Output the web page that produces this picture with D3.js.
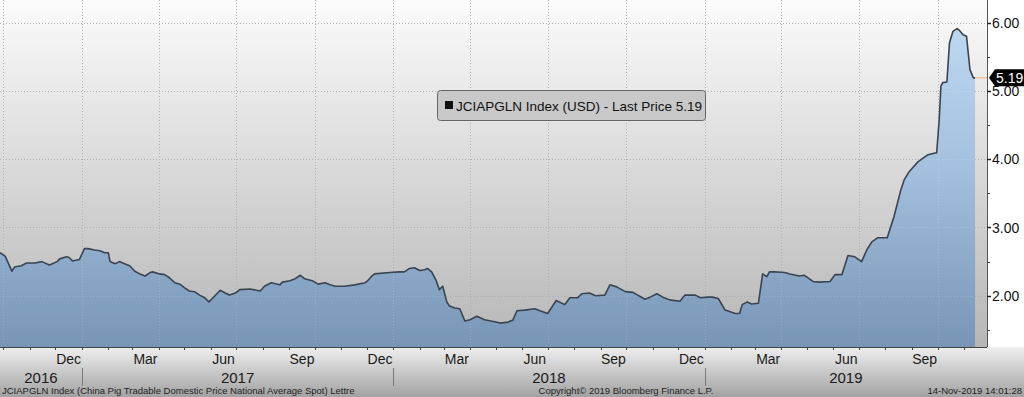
<!DOCTYPE html>
<html>
<head>
<meta charset="utf-8">
<script src="https://cdn.jsdelivr.net/npm/d3@7"></script>
<style>
  html, body { margin: 0; padding: 0; background: #fff; }
  svg { display: block; font-family: "Liberation Sans", Arial, sans-serif; }
</style>
</head>
<body>
<svg id="chart" width="1024" height="397"></svg>
<script>
// ---- data ----
const dates = [
  "2016-09-27","2016-10-03","2016-10-11","2016-10-14","2016-10-22","2016-10-28","2016-11-07","2016-11-15","2016-11-24",
  "2016-12-03","2016-12-06","2016-12-14","2016-12-17","2016-12-21","2016-12-29",
  "2017-01-04","2017-01-08","2017-01-16","2017-01-22","2017-01-28","2017-02-01","2017-02-03","2017-02-09","2017-02-14",
  "2017-02-20","2017-02-26","2017-03-04","2017-03-10","2017-03-16","2017-03-22","2017-03-25","2017-04-02","2017-04-08",
  "2017-04-14","2017-04-20","2017-04-26","2017-05-01","2017-05-07","2017-05-13","2017-05-19","2017-05-25","2017-05-30",
  "2017-06-06","2017-06-12","2017-06-18","2017-06-23","2017-06-30","2017-07-05","2017-07-17","2017-07-29","2017-08-03",
  "2017-08-11","2017-08-21","2017-08-24","2017-09-02","2017-09-08","2017-09-14","2017-09-19","2017-09-28","2017-10-05",
  "2017-10-13","2017-10-19","2017-10-25","2017-11-05","2017-11-17","2017-11-29","2017-12-02","2017-12-07","2017-12-10",
  "2017-12-28",
  "2018-01-08","2018-01-14","2018-01-20","2018-01-26","2018-02-01","2018-02-07","2018-02-10","2018-02-15","2018-02-20",
  "2018-02-24","2018-02-28","2018-03-05","2018-03-08","2018-03-14","2018-03-20","2018-03-26","2018-04-01","2018-04-09",
  "2018-04-18","2018-04-30","2018-05-06","2018-05-14","2018-05-21","2018-05-26","2018-06-04","2018-06-16","2018-06-22",
  "2018-07-01","2018-07-11","2018-07-21","2018-07-27","2018-08-05","2018-08-10","2018-08-19","2018-08-26","2018-09-06",
  "2018-09-12","2018-09-20","2018-09-30","2018-10-09","2018-10-23","2018-10-29","2018-11-06","2018-11-13","2018-11-21",
  "2018-12-03","2018-12-09","2018-12-21","2018-12-27",
  "2019-01-05","2019-01-10","2019-01-17","2019-01-25","2019-02-06","2019-02-11","2019-02-14","2019-02-20","2019-02-25",
  "2019-03-05","2019-03-10","2019-03-15","2019-03-18","2019-03-24","2019-04-05","2019-04-11","2019-04-22","2019-04-28",
  "2019-05-08","2019-05-16","2019-05-28","2019-06-03","2019-06-11","2019-06-18","2019-06-26","2019-07-04","2019-07-10",
  "2019-07-16","2019-07-23","2019-08-03","2019-08-11","2019-08-19","2019-08-23","2019-08-29","2019-09-08","2019-09-19",
  "2019-09-28","2019-09-30","2019-10-03","2019-10-05","2019-10-07","2019-10-12","2019-10-15","2019-10-19","2019-10-24",
  "2019-10-27","2019-10-31","2019-11-04","2019-11-08","2019-11-12","2019-11-14"
];
const prices = [
  2.63,2.58,2.36,2.42,2.44,2.48,2.48,2.50,2.45,
  2.50,2.54,2.57,2.56,2.51,2.53,
  2.69,2.69,2.67,2.66,2.63,2.63,2.50,2.47,2.50,
  2.47,2.44,2.36,2.32,2.29,2.34,2.35,2.32,2.31,
  2.26,2.19,2.17,2.12,2.07,2.06,2.01,1.97,1.91,
  2.00,2.08,2.04,2.01,2.04,2.09,2.10,2.07,2.14,
  2.19,2.16,2.20,2.22,2.25,2.30,2.25,2.22,2.17,
  2.19,2.16,2.14,2.14,2.16,2.19,2.22,2.29,2.32,
  2.34,
  2.35,2.35,2.40,2.41,2.37,2.38,2.40,2.35,2.23,
  2.09,2.14,1.90,1.85,1.82,1.81,1.63,1.65,1.70,
  1.65,1.62,1.60,1.61,1.64,1.78,1.79,1.81,1.78,
  1.74,1.93,1.87,1.97,1.97,2.03,2.04,2.00,2.01,
  2.16,2.13,2.06,2.05,1.95,1.98,2.03,1.98,1.94,
  1.92,2.01,2.01,1.97,
  1.98,1.98,1.96,1.79,1.74,1.74,1.87,1.91,1.88,
  1.89,2.32,2.28,2.35,2.35,2.34,2.32,2.29,2.30,
  2.21,2.20,2.21,2.31,2.31,2.59,2.57,2.50,2.67,
  2.79,2.85,2.85,3.16,3.55,3.70,3.82,3.96,4.06,
  4.09,4.09,4.58,5.07,5.12,5.13,5.70,5.87,5.91,
  5.88,5.82,5.80,5.31,5.19,5.19
];
const labelMonths = ["2016-12","2017-03","2017-06","2017-09","2017-12","2018-03","2018-06","2018-09","2018-12","2019-03","2019-06","2019-09"];
const monthNames = ["Dec","Mar","Jun","Sep","Dec","Mar","Jun","Sep","Dec","Mar","Jun","Sep"];
const years = ["2016","2017","2018","2019"];
const yTicks = [2, 3, 4, 5, 6];
const yMinorTicks = [1.5, 2.5, 3.5, 4.5, 5.5];
const lastPrice = 5.19;
const legendText = "JCIAPGLN Index (USD) - Last Price 5.19";
const footLeft = "JCIAPGLN Index (China Pig Tradable Domestic Price National Average Spot) Lettre";
const footMid = "Copyright\u00A9 2019 Bloomberg Finance L.P.";
const footRight = "14-Nov-2019 14:01:28";

// ---- layout ----
const W = 1024, H = 397;
const PLOT = { left: 0, right: 987, top: 0, bottom: 347 };
const parse = d3.timeParse("%Y-%m-%d");
const parseMonth = d3.timeParse("%Y-%m");

const data = dates.map((d, i) => ({ date: parse(d), value: prices[i] }));

const x = d3.scaleTime()
  .domain([new Date(2016, 8, 27), new Date(2019, 10, 28)])
  .range([PLOT.left, PLOT.right]);
const y = d3.scaleLinear()
  .domain([1.25, 6.33])
  .range([PLOT.bottom, PLOT.top]);

const svg = d3.select("#chart");
const defs = svg.append("defs");

// background gradient of the plot
const bgGrad = defs.append("linearGradient")
  .attr("id", "bgGrad").attr("x1", 0).attr("y1", 0).attr("x2", 0).attr("y2", 1);
bgGrad.append("stop").attr("offset", "0%").attr("stop-color", "#fbfbfb");
bgGrad.append("stop").attr("offset", "100%").attr("stop-color", "#b6b6b6");

// area fill gradient, fixed to the plot height
const areaGrad = defs.append("linearGradient")
  .attr("id", "areaGrad").attr("gradientUnits", "userSpaceOnUse")
  .attr("x1", 0).attr("y1", PLOT.top).attr("x2", 0).attr("y2", PLOT.bottom);
areaGrad.append("stop").attr("offset", "0%").attr("stop-color", "#c3dcf5");
areaGrad.append("stop").attr("offset", "50%").attr("stop-color", "#a2bfdd");
areaGrad.append("stop").attr("offset", "100%").attr("stop-color", "#7795b5");

// bottom axis band gradient
const axGrad = defs.append("linearGradient")
  .attr("id", "axGrad").attr("x1", 0).attr("y1", 0).attr("x2", 0).attr("y2", 1);
axGrad.append("stop").attr("offset", "0%").attr("stop-color", "#efefef");
axGrad.append("stop").attr("offset", "100%").attr("stop-color", "#a2a2a2");

svg.append("rect").attr("width", W).attr("height", H).attr("fill", "#fff");
svg.append("rect")
  .attr("x", PLOT.left).attr("y", PLOT.top)
  .attr("width", PLOT.right - PLOT.left).attr("height", PLOT.bottom - PLOT.top)
  .attr("fill", "url(#bgGrad)");
svg.append("rect")
  .attr("x", 0).attr("y", PLOT.bottom)
  .attr("width", W).attr("height", H - PLOT.bottom)
  .attr("fill", "url(#axGrad)");

// grid
const quarterStarts = x.ticks(d3.timeMonth.every(3));
function drawGrid(cls, color, opacity) {
  const g = svg.append("g").attr("class", cls)
    .attr("stroke", color).attr("stroke-opacity", opacity)
    .attr("stroke-dasharray", "1,2").attr("fill", "none");
  g.selectAll("line.h").data(yTicks).join("line").attr("class", "h")
    .attr("x1", PLOT.left).attr("x2", PLOT.right)
    .attr("y1", d => Math.round(y(d)) + 0.5).attr("y2", d => Math.round(y(d)) + 0.5);
  g.selectAll("line.v").data(quarterStarts).join("line").attr("class", "v")
    .attr("x1", d => Math.round(x(d)) + 0.5).attr("x2", d => Math.round(x(d)) + 0.5)
    .attr("y1", PLOT.top).attr("y2", PLOT.bottom);
}
drawGrid("grid", "#9a9a9a", 0.9);

// area and line
const area = d3.area()
  .x(d => x(d.date)).y0(PLOT.bottom).y1(d => y(d.value));
const line = d3.line()
  .x(d => x(d.date)).y(d => y(d.value));

svg.append("path").datum(data)
  .attr("d", area)
  .attr("fill", "url(#areaGrad)");

drawGrid("grid-over", "#ffffff", 0.18);

svg.append("path").datum(data)
  .attr("d", line)
  .attr("fill", "none")
  .attr("stroke", "#3a4452")
  .attr("stroke-width", 1.6)
  .attr("stroke-linejoin", "round");

// last price connector
const last = data[data.length - 1];
const yp = y(lastPrice);
svg.append("line")
  .attr("x1", x(last.date)).attr("x2", PLOT.right)
  .attr("y1", yp).attr("y2", yp)
  .attr("stroke", "#f2b062").attr("stroke-width", 1);

// right panel + axis
svg.append("rect")
  .attr("x", PLOT.right).attr("y", 0)
  .attr("width", W - PLOT.right).attr("height", PLOT.bottom)
  .attr("fill", "#fff");

const yAxisG = svg.append("g").attr("transform", `translate(${PLOT.right},0)`);
yAxisG.append("line")
  .attr("x1", 0.5).attr("x2", 0.5).attr("y1", PLOT.top).attr("y2", PLOT.bottom)
  .attr("stroke", "#555");
yAxisG.selectAll("line.maj").data(yTicks).join("line").attr("class", "maj")
  .attr("x1", 0).attr("x2", 4)
  .attr("y1", d => Math.round(y(d)) + 0.5).attr("y2", d => Math.round(y(d)) + 0.5)
  .attr("stroke", "#222").attr("stroke-width", 1.5);
yAxisG.selectAll("line.min").data(yMinorTicks).join("line").attr("class", "min")
  .attr("x1", 0).attr("x2", 3)
  .attr("y1", d => Math.round(y(d)) + 0.5).attr("y2", d => Math.round(y(d)) + 0.5)
  .attr("stroke", "#444");
yAxisG.selectAll("text").data(yTicks).join("text")
  .attr("x", 5).attr("y", d => y(d))
  .attr("dy", "0.36em")
  .attr("font-size", 14).attr("fill", "#111")
  .text(d => d3.format(".2f")(d));

// last price tag
const tag = svg.append("g").attr("transform", `translate(${PLOT.right + 2},${yp})`);
tag.append("path")
  .attr("d", "M0,0 L6,-8.5 L35,-8.5 L35,8.5 L6,8.5 Z")
  .attr("fill", "#000");
tag.append("text")
  .attr("x", 7).attr("dy", "0.36em")
  .attr("font-size", 14).attr("fill", "#fff")
  .text(d3.format(".2f")(lastPrice));

// bottom axis
svg.append("line")
  .attr("x1", 0).attr("x2", PLOT.right)
  .attr("y1", PLOT.bottom + 0.5).attr("y2", PLOT.bottom + 0.5)
  .attr("stroke", "#444");
svg.append("g").selectAll("line")
  .data(x.ticks(d3.timeMonth.every(1)))
  .join("line")
  .attr("x1", d => Math.round(x(d)) + 0.5).attr("x2", d => Math.round(x(d)) + 0.5)
  .attr("y1", PLOT.bottom).attr("y2", PLOT.bottom + 3)
  .attr("stroke", "#444");

svg.append("g").selectAll("text")
  .data(labelMonths)
  .join("text")
  .attr("x", d => {
    const s = parseMonth(d);
    return (x(s) + x(d3.timeMonth.offset(s, 1))) / 2;
  })
  .attr("y", 364)
  .attr("text-anchor", "middle")
  .attr("font-size", 14).attr("fill", "#1a1a1a")
  .text((d, i) => monthNames[i]);

const yearG = svg.append("g");
yearG.selectAll("text")
  .data(years)
  .join("text")
  .attr("x", d => {
    const a = Math.max(x(new Date(+d, 0, 1)), PLOT.left);
    const b = Math.min(x(new Date(+d + 1, 0, 1)), PLOT.right);
    return (a + b) / 2;
  })
  .attr("y", 383)
  .attr("text-anchor", "middle")
  .attr("font-size", 15).attr("fill", "#1a1a1a")
  .text(d => d);
yearG.selectAll("line")
  .data(years.slice(1))
  .join("line")
  .attr("x1", d => Math.round(x(new Date(+d, 0, 1))) + 0.5)
  .attr("x2", d => Math.round(x(new Date(+d, 0, 1))) + 0.5)
  .attr("y1", 368).attr("y2", 386)
  .attr("stroke", "#7a7a7a");

// footer
svg.append("text").attr("x", 2).attr("y", 394)
  .attr("font-size", 9.5).attr("fill", "#222").text(footLeft);
svg.append("text").attr("x", 626).attr("y", 394).attr("text-anchor", "middle")
  .attr("font-size", 9.5).attr("fill", "#222").text(footMid);
svg.append("text").attr("x", 1022).attr("y", 394).attr("text-anchor", "end")
  .attr("font-size", 9.5).attr("fill", "#222").text(footRight);

// legend
const legend = svg.append("g").attr("transform", "translate(437,90)");
legend.append("rect")
  .attr("x", 0.5).attr("y", 0.5).attr("width", 268).attr("height", 30).attr("rx", 3)
  .attr("fill", "#c8c8c8").attr("stroke", "#666");
legend.append("rect")
  .attr("x", 8).attr("y", 11).attr("width", 8).attr("height", 8)
  .attr("fill", "#111");
legend.append("text")
  .attr("x", 19).attr("y", 21)
  .attr("font-size", 13.5).attr("fill", "#111")
  .text(legendText);
</script>
</body>
</html>
